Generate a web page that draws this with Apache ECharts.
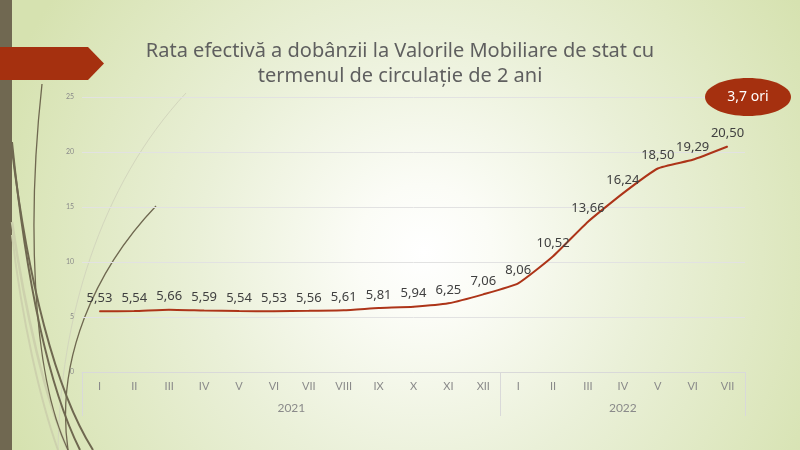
<!DOCTYPE html>
<html>
<head>
<meta charset="utf-8">
<script src="https://cdn.jsdelivr.net/npm/echarts@6/dist/echarts.min.js"></script>
<style>html,body{margin:0;padding:0;}#c{width:800px;height:450px;}</style>
</head>
<body>
<div id="c"></div>
<script>
const months = ['I','II','III','IV','V','VI','VII','VIII','IX','X','XI','XII','I','II','III','IV','V','VI','VII'];
const rates = [5.53,5.54,5.66,5.59,5.54,5.53,5.56,5.61,5.81,5.94,6.25,7.06,8.06,10.52,13.66,16.24,18.50,19.29,20.50];
const years = ['2021','2022'];
const yearSpans = [12,7];
const yTicks = [0,5,10,15,20,25];
const titleLines = ['Rata efectivă a dobânzii la Valorile Mobiliare de stat cu','termenul de circulație de 2 ani'];
const badgeText = '3,7 ori';

const FONT = 'Noto Sans';
const AXFONT = 'Lato';
const yearCenters = {};
let acc = 0;
yearSpans.forEach((s,i)=>{ yearCenters[(acc + s/2).toFixed(1)] = years[i]; acc += s; });
const boundaries = [];
acc = 0; yearSpans.forEach(s=>{ boundaries.push(acc); acc += s; }); boundaries.push(acc);

const chart = echarts.init(document.getElementById('c'), null, {renderer:'canvas'});
const dark = '#6f6850';
const pale = '#cdd1ad';
chart.setOption({
  backgroundColor: {type:'radial', x:0.53, y:0.56, r:1.0,
    colorStops:[{offset:0,color:'#ffffff'},{offset:0.15,color:'#fbfcf6'},{offset:0.5,color:'#eaf0d8'},{offset:1,color:'#d6e2b0'}]},
  animation:false,
  title:{
    text: titleLines.join('\n'),
    left:'center', top:34,
    textStyle:{fontFamily:FONT, fontSize:20, fontWeight:'normal', color:'#5f5f5f', lineHeight:25}
  },
  grid:{left:82, right:55, top:97, bottom:78},
  xAxis:[{
    type:'category', data:months, boundaryGap:true,
    axisLine:{show:true, lineStyle:{color:'#d9d9d9'}},
    axisTick:{show:true, length:44, interval:(i)=>boundaries.includes(i), lineStyle:{color:'#d9d9d9'}},
    axisLabel:{fontFamily:AXFONT, fontSize:11, color:'#8a8a8a', margin:9, interval:0},
    splitLine:{show:false}
  },{
    type:'value', min:0, max:months.length, interval:0.5, position:'bottom',
    axisLine:{show:false}, axisTick:{show:false}, splitLine:{show:false},
    axisLabel:{fontFamily:AXFONT, fontSize:12, color:'#8a8a8a', margin:30,
      formatter:(v)=> yearCenters[v.toFixed(1)] || ''}
  }],
  yAxis:{
    type:'value', min:yTicks[0], max:yTicks[yTicks.length-1], interval:yTicks[1]-yTicks[0],
    axisLine:{show:false}, axisTick:{show:false},
    axisLabel:{fontFamily:AXFONT, fontSize:7, color:'#8a8a8a', margin:8},
    splitLine:{lineStyle:{color:'#e2e2e2'}}
  },
  series:[{
    type:'line', data:rates, xAxisIndex:0, smooth:0.15, symbol:'circle', symbolSize:1, showSymbol:true,
    itemStyle:{color:'#ad3418'},
    lineStyle:{color:'#ad3418', width:2},
    label:{show:true, position:'top', distance:6, fontFamily:FONT, fontSize:13, color:'#404040',
      formatter:(p)=>p.value.toFixed(2).replace('.',',')},
    labelLayout:{hideOverlap:false},
    z:5
  }],
  graphic:[
    {type:'rect', shape:{x:0,y:0,width:12,height:450}, style:{fill:'#706851'}, z:-5, silent:true},
    {type:'bezierCurve', shape:{x1:186,y1:93,cpx1:100,cpy1:185,cpx2:60,cpy2:320,x2:58,y2:450}, style:{stroke:'#d3d6bd',lineWidth:1,fill:null}, z:-4, silent:true},
    {type:'bezierCurve', shape:{x1:12,y1:222,cpx1:25,cpy1:310,cpx2:45,cpy2:400,x2:68,y2:450}, style:{stroke:pale,lineWidth:2.5,fill:null}, z:-4, silent:true},
    {type:'bezierCurve', shape:{x1:12,y1:235,cpx1:22,cpy1:320,cpx2:40,cpy2:400,x2:58,y2:450}, style:{stroke:pale,lineWidth:2,fill:null}, z:-4, silent:true},
    {type:'bezierCurve', shape:{x1:42,y1:84,cpx1:28,cpy1:210,cpx2:30,cpy2:370,x2:68,y2:450}, style:{stroke:dark,lineWidth:1.3,fill:null}, z:-3, silent:true},
    {type:'bezierCurve', shape:{x1:12,y1:142,cpx1:25,cpy1:270,cpx2:45,cpy2:380,x2:80,y2:450}, style:{stroke:dark,lineWidth:2,fill:null}, z:-3, silent:true},
    {type:'bezierCurve', shape:{x1:12,y1:150,cpx1:28,cpy1:280,cpx2:55,cpy2:390,x2:93,y2:450}, style:{stroke:dark,lineWidth:2,fill:null}, z:-3, silent:true},
    {type:'bezierCurve', shape:{x1:156,y1:206,cpx1:95,cpy1:270,cpx2:55,cpy2:360,x2:68,y2:450}, style:{stroke:dark,lineWidth:1.3,fill:null}, z:-3, silent:true},
    {type:'polygon', shape:{points:[[0,47],[88,47],[104,63.5],[88,80],[0,80]]}, style:{fill:'#a5300f'}, z:10, silent:true},
    {type:'ellipse', shape:{cx:748,cy:97,rx:43,ry:19}, style:{fill:'#a5300f'}, z:10, silent:true},
    {type:'text', x:748, y:97, style:{text:badgeText, fill:'#ffffff', fontFamily:FONT, fontSize:14, align:'center', verticalAlign:'middle'}, z:11, silent:true}
  ]
});
</script>
</body>
</html>
